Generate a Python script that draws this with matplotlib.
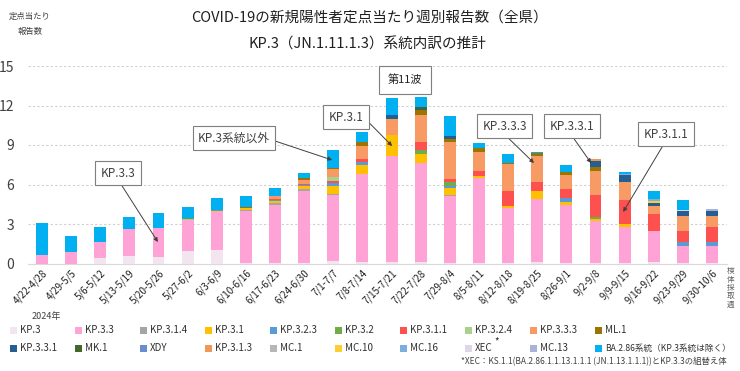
import matplotlib
matplotlib.use('Agg')
import matplotlib.pyplot as plt
from matplotlib.patches import Rectangle
import numpy as np

plt.rcParams['font.family'] = ['Noto Sans CJK JP', 'DejaVu Sans']

weeks = ['4/22-4/28', '4/29-5/5', '5/6-5/12', '5/13-5/19', '5/20-5/26', '5/27-6/2',
         '6/3-6/9', '6/10-6/16', '6/17-6/23', '6/24-6/30', '7/1-7/7', '7/8-7/14',
         '7/15-7/21', '7/22-7/28', '7/29-8/4', '8/5-8/11', '8/12-8/18', '8/19-8/25',
         '8/26-9/1', '9/2-9/8', '9/9-9/15', '9/16-9/22', '9/23-9/29', '9/30-10/6']

kp3      = [0, 0, 0.45, 0.57, 0.5, 0.93, 1.03, 0.05, 0.05, 0.05, 0.2, 0.1, 0.1, 0.15, 0.05, 0.05, 0.05, 0.1, 0.05, 0.05, 0.05, 0.1, 0.05, 0.05]
kp33     = [0.65, 0.9, 1.19, 2.03, 2.2, 2.34, 2.92, 3.95, 4.42, 5.43, 5.03, 6.71, 8.05, 7.5, 5.05, 6.42, 4.16, 4.8, 4.36, 3.14, 2.71, 2.38, 1.29, 1.31]
kp314    = [0, 0, 0, 0, 0, 0, 0, 0.1, 0.12, 0.18, 0.05, 0, 0, 0, 0.13, 0, 0, 0, 0, 0, 0, 0, 0, 0]
kp31     = [0, 0, 0, 0, 0, 0.08, 0, 0.12, 0.18, 0.25, 0.64, 0.66, 1.58, 0.64, 0.53, 0.2, 0.18, 0.64, 0.23, 0.18, 0.25, 0, 0, 0]
kp323    = [0, 0, 0, 0, 0, 0, 0.04, 0, 0.05, 0.07, 0.2, 0.25, 0, 0, 0.1, 0, 0, 0, 0.33, 0, 0, 0, 0.28, 0.3]
kp32     = [0, 0, 0, 0, 0, 0, 0.08, 0, 0, 0, 0, 0, 0, 0.3, 0.36, 0, 0, 0, 0, 0.15, 0, 0, 0, 0]
kp311    = [0, 0, 0, 0, 0, 0, 0, 0, 0.07, 0.08, 0.12, 0.18, 0, 0.66, 0.2, 0.33, 1.1, 0.66, 0.71, 1.65, 1.78, 1.3, 0.87, 1.1]
kp324    = [0, 0, 0, 0, 0, 0, 0, 0, 0, 0, 0.33, 0, 0, 0, 0, 0, 0, 0, 0, 0, 0, 0, 0, 0]
kp333    = [0, 0, 0, 0, 0, 0, 0, 0, 0.26, 0.3, 0.6, 1.02, 1.27, 2.04, 2.8, 1.46, 2.04, 1.96, 1.02, 1.88, 1.37, 0.61, 1.1, 0.87]
ml1      = [0, 0, 0, 0, 0, 0, 0, 0.08, 0, 0.13, 0.12, 0.33, 0, 0.38, 0.25, 0.32, 0.13, 0.2, 0.23, 0.25, 0, 0, 0, 0]
kp331    = [0, 0, 0, 0, 0, 0, 0, 0, 0, 0, 0, 0, 0.28, 0.1, 0.2, 0, 0, 0, 0, 0.46, 0.53, 0.2, 0.38, 0.33]
mk1      = [0, 0, 0, 0, 0, 0, 0, 0, 0, 0, 0, 0, 0, 0.1, 0, 0, 0, 0, 0, 0, 0, 0, 0, 0]
xdy      = [0] * 24
kp313    = [0, 0, 0, 0, 0, 0, 0, 0, 0, 0, 0, 0, 0, 0, 0, 0, 0, 0, 0, 0.18, 0, 0, 0, 0]
mc1      = [0] * 24
mc10     = [0, 0, 0, 0, 0, 0, 0, 0, 0, 0, 0, 0, 0, 0, 0, 0, 0, 0, 0, 0, 0, 0.18, 0, 0]
mc16     = [0, 0, 0, 0, 0, 0, 0, 0, 0, 0, 0, 0, 0, 0, 0, 0, 0, 0, 0, 0, 0.08, 0.15, 0, 0]
xec      = [0, 0, 0, 0, 0, 0, 0, 0, 0, 0, 0, 0, 0, 0, 0, 0, 0, 0, 0, 0, 0, 0, 0.13, 0]
mc13     = [0, 0, 0, 0, 0, 0, 0, 0, 0, 0, 0, 0, 0, 0, 0, 0, 0, 0, 0, 0, 0, 0, 0, 0.2]
ba286    = [2.45, 1.22, 1.14, 0.9, 1.1, 0.94, 0.9, 0.8, 0.56, 0.38, 1.35, 0.76, 1.28, 0.76, 1.53, 0.4, 0.64, 0.13, 0.53, 0, 0.17, 0.61, 0.76, 0]

labels = ['KP.3', 'KP.3.3', 'KP.3.1.4', 'KP.3.1', 'KP.3.2.3', 'KP.3.2', 'KP.3.1.1', 'KP.3.2.4',
          'KP.3.3.3', 'ML.1', 'KP.3.3.1', 'MK.1', 'XDY', 'KP.3.1.3', 'MC.1', 'MC.10', 'MC.16',
          'XEC', 'MC.13', 'BA.2.86系統（KP.3系統は除く）']
series = [kp3, kp33, kp314, kp31, kp323, kp32, kp311, kp324, kp333, ml1, kp331, mk1, xdy,
          kp313, mc1, mc10, mc16, xec, mc13, ba286]
colors = ['#F3E5F0', '#FFA3D6', '#A5A5A5', '#FFC000', '#5B9BD5', '#70AD47', '#FF5050', '#A9D18E',
          '#F89A63', '#9C7400', '#255E91', '#43682B', '#698ED0', '#F1975A', '#B7B7B7', '#FFCD33',
          '#7CAFDD', '#DCD6E8', '#A8B4D4', '#00B0F0']

W, H = 740, 371
fig = plt.figure(figsize=(W / 100, H / 100), dpi=100)
fig.patch.set_facecolor('white')

ax = fig.add_axes([28 / W, 1 - 263.5 / H, 699 / W, (263.5 - 66) / H])
x = np.arange(len(weeks))
bottom = np.zeros(len(weeks))
for lab, vals, col in zip(labels, series, colors):
    v = np.array(vals, dtype=float)
    ax.bar(x, v, bottom=bottom, width=0.41, color=col, linewidth=0, zorder=3)
    bottom += v

ax.set_xlim(-0.48, len(weeks) - 0.485)
ax.set_ylim(0, 15)
ax.set_yticks([0, 3, 6, 9, 12, 15])
ax.tick_params(axis='y', length=0, labelsize=10, colors='#404040', pad=10)
ax.set_xticks(x)
ax.set_xticklabels(weeks, rotation=45, ha='right', rotation_mode='anchor', fontsize=7, color='#202020')
ax.tick_params(axis='x', length=0, pad=3)
ax.grid(axis='y', color='#D0D0D0', linestyle=(0, (2, 2)), linewidth=0.8, zorder=0)
for s in ['top', 'right', 'left']:
    ax.spines[s].set_visible(False)
ax.spines['bottom'].set_color('#D9D9D9')
ax.spines['bottom'].set_linewidth(0.8)

# Titles
fig.text(369 / W, 1 - 18 / H, 'COVID-19の新規陽性者定点当たり週別報告数（全県）', ha='center', va='center',
         fontsize=10.5, color='#202020')
fig.text(367 / W, 1 - 45 / H, 'KP.3（JN.1.11.1.3）系統内訳の推計', ha='center', va='center',
         fontsize=10.5, color='#202020')
fig.text(30 / W, 1 - 16 / H, '定点当たり', ha='center', va='center', fontsize=6, color='#404040')
fig.text(30 / W, 1 - 31 / H, '報告数', ha='center', va='center', fontsize=6, color='#404040')
fig.text(731 / W, 1 - 288 / H, '\n'.join('検体採取週'), ha='center', va='center', fontsize=5.5,
         color='#606060', linespacing=1.05)

# Annotations
box = dict(boxstyle='square,pad=0.45', fc='white', ec='#7F7F7F', lw=0.8)
arrow = dict(arrowstyle='-|>', color='#404040', lw=0.7, mutation_scale=6, shrinkA=0, shrinkB=0)
ann = [
    ('KP.3.3', (2.61, 6.87), (3.98, 1.63), (0.5, 0.0)),
    ('KP.3系統以外', (6.59, 9.53), (9.96, 7.86), (1.0, 0.4)),
    ('KP.3.1', (10.44, 11.12), (12.02, 8.92), (1.0, 0.5)),
    ('KP.3.3.3', (15.89, 10.44), (16.89, 7.63), (0.45, 0.0)),
    ('KP.3.3.1', (18.19, 10.44), (18.85, 7.63), (0.45, 0.0)),
    ('KP.3.1.1', (21.42, 9.83), (19.95, 3.91), (0.5, 0.0)),
]
for txt, tpos, target, rp in ann:
    a = dict(arrow)
    a['relpos'] = rp
    ax.annotate(txt, xy=target, xytext=tpos, ha='center', va='center', fontsize=8.5,
                color='#404040', bbox=box, arrowprops=a, zorder=5, annotation_clip=False)
ax.text(12.46, 13.93, '第11波', ha='center', va='center', fontsize=8, color='#202020',
        bbox=dict(boxstyle='square,pad=0.75', fc='white', ec='#7F7F7F', lw=0.8), zorder=5, clip_on=False)

# Legend (manual, fixed column spacing)
fig.text(32 / W, 1 - 316 / H, '2024年', ha='left', va='center', fontsize=6.5, color='#404040')
for i, (lab, col) in enumerate(zip(labels, colors)):
    c, r = i % 10, i // 10
    px = 10 + c * 65
    py = 330 + r * 18
    fig.patches.append(Rectangle((px / W, 1 - (py + 3.5) / H), 7 / W, 7 / H, transform=fig.transFigure,
                                 facecolor=col, edgecolor='none'))
    fs = 6.2 if len(lab) > 12 else 7
    fig.text((px + 10) / W, 1 - py / H, lab, ha='left', va='center', fontsize=fs, color='#303030')
    if lab == 'XEC':
        fig.text((px + 29) / W, 1 - (py - 7) / H, '*', ha='left', va='center', fontsize=7, color='#303030')

fig.text(461 / W, 1 - 362 / H, '*XEC：KS.1.1(BA.2.86.1.1.13.1.1.1 (JN.1.13.1.1.1))とKP.3.3の組替え体',
         ha='left', va='center', fontsize=6, color='#404040')

fig.savefig('out.png', dpi=100)
